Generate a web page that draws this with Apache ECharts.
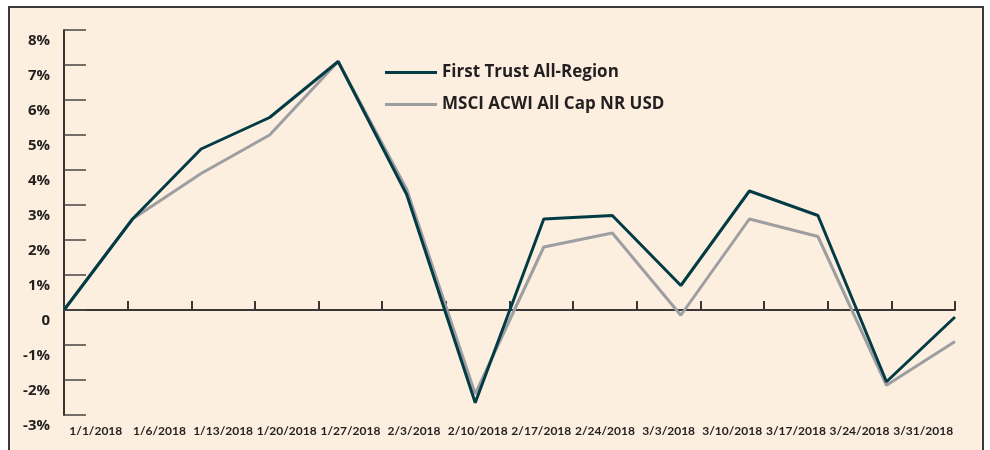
<!DOCTYPE html>
<html>
<head>
<meta charset="utf-8">
<script src="https://cdn.jsdelivr.net/npm/echarts@6/dist/echarts.min.js"></script>
<style>
  html, body { margin: 0; padding: 0; background: #fff; }
  #chart { width: 990px; height: 450px; }
</style>
</head>
<body>
<div id="chart"></div>
<script>
var dates = ['1/1/2018', '1/6/2018', '1/13/2018', '1/20/2018', '1/27/2018', '2/3/2018', '2/10/2018',
    '2/17/2018', '2/24/2018', '3/3/2018', '3/10/2018', '3/17/2018', '3/24/2018', '3/31/2018'];
var firstTrust = [0, 2.6, 4.6, 5.5, 7.1, 3.3, -2.65, 2.6, 2.7, 0.7, 3.4, 2.7, -2.05, -0.2];
var msciAcwi = [0, 2.6, 3.9, 5.0, 7.1, 3.45, -2.4, 1.8, 2.2, -0.15, 2.6, 2.1, -2.15, -0.9];

var textColor = '#231f20';

echarts.init(document.getElementById('chart'))
    .setOption({
        backgroundColor: '#fff',
        animation: false,
        graphic: [{
            type: 'rect',
            z: -10,
            shape: { x: 9, y: 7, width: 974, height: 460 },
            style: { fill: '#fcefdf', stroke: '#3a3838', lineWidth: 2 }
        }],
        grid: {
            left: 64,
            right: 35,
            top: 30,
            bottom: 35
        },
        legend: {
            orient: 'vertical',
            left: 380,
            top: 59,
            itemGap: 15,
            itemWidth: 52,
            itemHeight: 3,
            icon: 'rect',
            data: ['First Trust All-Region', 'MSCI ACWI All Cap NR USD'],
            textStyle: {
                fontFamily: 'Open Sans',
                fontWeight: 'bold',
                fontSize: 17,
                color: textColor
            }
        },
        xAxis: [{
            type: 'category',
            data: dates,
            boundaryGap: true,
            axisLine: { onZero: true, lineStyle: { color: '#3a3535', width: 2 } },
            axisTick: { show: true, interval: 0, inside: true, length: 9, lineStyle: { color: '#3a3535', width: 2 } },
            axisLabel: { show: false, interval: 0 },
            splitLine: { show: false }
        }, {
            type: 'category',
            data: dates,
            position: 'bottom',
            boundaryGap: true,
            axisLine: { show: false, onZero: false },
            axisTick: { show: false },
            axisLabel: {
                interval: 0,
                margin: 10,
                fontFamily: 'Lato',
                fontWeight: 'bold',
                fontSize: 12,
                color: textColor
            }
        }, {
            type: 'category',
            data: dates,
            show: false,
            boundaryGap: false
        }],
        yAxis: {
            type: 'value',
            min: -3,
            max: 8,
            interval: 1,
            axisLine: { show: true, onZero: false, lineStyle: { color: '#3a3535', width: 2 } },
            axisTick: { show: true, inside: true, length: 22, lineStyle: { color: '#4a4444', width: 1.5 } },
            splitLine: { show: false },
            axisLabel: {
                margin: 14,
                verticalAlign: 'top',
                padding: [3, 0, 0, 0],
                fontFamily: 'Open Sans',
                fontWeight: 'bold',
                fontSize: 15,
                color: textColor,
                formatter: function (value) {
                    return value === 0 ? '0' : value + '%';
                }
            }
        },
        series: [{
            type: 'line',
            name: 'MSCI ACWI All Cap NR USD',
            xAxisIndex: 2,
            symbol: 'none',
            z: 2,
            lineStyle: { color: '#9d9ea2', width: 3 },
            itemStyle: { color: '#9d9ea2' },
            data: msciAcwi
        }, {
            type: 'line',
            name: 'First Trust All-Region',
            xAxisIndex: 2,
            symbol: 'none',
            z: 3,
            lineStyle: { color: '#033b45', width: 3 },
            itemStyle: { color: '#033b45' },
            data: firstTrust
        }]
    });
</script>
</body>
</html>
